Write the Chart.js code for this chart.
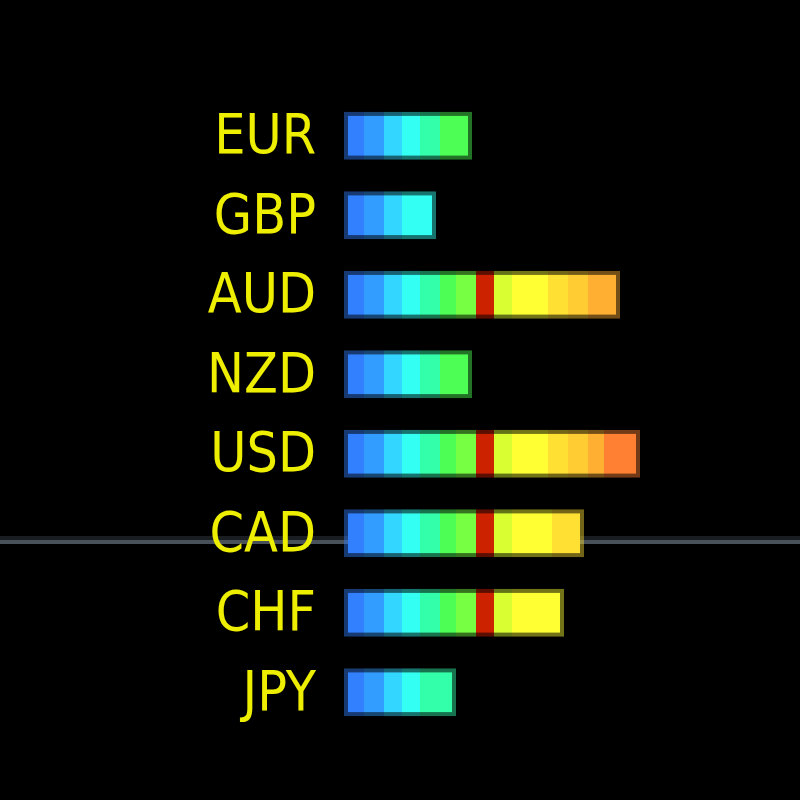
<!DOCTYPE html>
<html>
<head>
<meta charset="utf-8">
<title>Currency strength</title>
<script src="https://cdn.jsdelivr.net/npm/chart.js@4/dist/chart.umd.min.js"></script>
<style>
	html, body {
		margin: 0;
		padding: 0;
		background: #000000;
	}
	#chart-container {
		width: 800px;
		height: 800px;
	}
</style>
</head>
<body>
<div id="chart-container">
	<canvas id="strength-chart" width="800" height="800"></canvas>
</div>
<script>
'use strict';

// currencies, top to bottom
const currencies = ['EUR', 'GBP', 'AUD', 'NZD', 'USD', 'CAD', 'CHF', 'JPY'];

// colour of each strength level, from weakest to strongest
const levelColors = [
	'#3380ff', '#339cff', '#33d6ff', '#33fff2', '#33ffaa', '#4dff55', '#77ff44',
	'#cc2200', '#d9ff33', '#ffff33', '#ffe033', '#ffcc33', '#ffb033', '#ff8033'
];

// width of every level filled by each currency
const eurLevels = [5, 5, 4.5, 4.5, 5, 8];
const gbpLevels = [5, 5, 4.5, 8.5];
const audLevels = [5, 5, 4.5, 4.5, 5, 4, 5, 4.5, 4.5, 9, 5, 5, 8];
const nzdLevels = [5, 5, 4.5, 4.5, 5, 8];
const usdLevels = [5, 5, 4.5, 4.5, 5, 4, 5, 4.5, 4.5, 9, 5, 5, 4, 9];
const cadLevels = [5, 5, 4.5, 4.5, 5, 4, 5, 4.5, 4.5, 10, 8];
const chfLevels = [5, 5, 4.5, 4.5, 5, 4, 5, 4.5, 4.5, 13];
const jpyLevels = [5, 5, 4.5, 4.5, 9];

// value on the currency axis where the reference line sits
const referenceLevel = 5.11;

const allLevels = [eurLevels, gbpLevels, audLevels, nzdLevels, usdLevels, cadLevels, chfLevels, jpyLevels];

document.addEventListener('DOMContentLoaded', function () {
	createChart(document.getElementById('strength-chart'));
});

/**
 * Turn a hex colour into a darker rgba used for the bar edges
 * @param {string} hex colour like #rrggbb
 */
function edgeColor(hex) {
	let r = parseInt(hex.substr(1, 2), 16);
	let g = parseInt(hex.substr(3, 2), 16);
	let b = parseInt(hex.substr(5, 2), 16);
	return 'rgba(' + r + ',' + g + ',' + b + ',0.45)';
}

/**
 * One stacked dataset per strength level
 */
function buildDatasets() {
	let datasets = [];

	levelColors.forEach(function (color, level) {
		datasets.push({
			label: 'Level ' + (level + 1),
			data: allLevels.map(function (levels) {
				return levels[level] || 0;
			}),
			backgroundColor: color,
			borderColor: edgeColor(color),
			borderSkipped: false,
			borderWidth: function (ctx) {
				let levels = allLevels[ctx.dataIndex];
				return {
					top: 4,
					bottom: 4,
					left: level === 0 ? 4 : 0,
					right: level === levels.length - 1 ? 4 : 0
				};
			}
		});
	});

	return datasets;
}

// thin grey line drawn under labels and bars
const referenceLine = {
	id: 'referenceLine',
	beforeDraw: function (chart) {
		let ctx = chart.ctx;
		let y = chart.scales.y.getPixelForValue(referenceLevel);
		ctx.save();
		ctx.fillStyle = '#1a1e22';
		ctx.fillRect(0, y - 6, chart.width, 4);
		ctx.fillStyle = '#48505a';
		ctx.fillRect(0, y - 2, chart.width, 4);
		ctx.restore();
	}
};

/**
 * Create the horizontal stacked bar chart
 * @param {object} canvas canvas element
 */
function createChart(canvas) {
	let chart = new Chart(canvas, {
		type: 'bar',
		data: {
			labels: currencies,
			datasets: buildDatasets()
		},
		options: {
			indexAxis: 'y',
			responsive: false,
			animation: false,
			layout: {
				padding: { top: 96, bottom: 68, left: 0, right: 0 }
			},
			datasets: {
				bar: {
					barPercentage: 0.604,
					categoryPercentage: 1
				}
			},
			plugins: {
				legend: { display: false },
				tooltip: { enabled: false }
			},
			scales: {
				x: {
					stacked: true,
					display: false,
					min: 0,
					max: 114
				},
				y: {
					stacked: true,
					grid: { display: false, drawTicks: false },
					border: { display: false },
					ticks: {
						color: '#eeee00',
						padding: 28,
						labelOffset: 3,
						font: {
							family: '"DejaVu Sans Condensed", "Liberation Sans Narrow", "Liberation Sans", sans-serif',
							size: 55
						}
					},
					afterFit: function (scale) {
						scale.width = 344;
					}
				}
			}
		},
		plugins: [referenceLine]
	});
}
</script>
</body>
</html>
